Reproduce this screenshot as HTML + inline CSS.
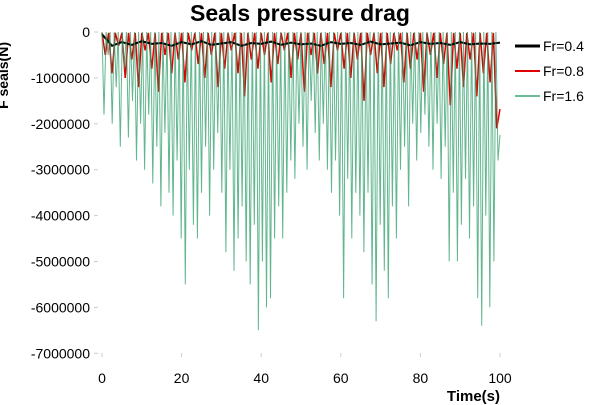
<!DOCTYPE html>
<html><head><meta charset="utf-8"><style>
body{margin:0;background:#fff;}
svg{display:block;font-family:"Liberation Sans",sans-serif;}
</style></head><body>
<svg id="chart" width="600" height="405">
<text x="300" y="21" text-anchor="middle" font-size="23" font-weight="bold">Seals pressure drag</text>
<text transform="translate(8,42) rotate(-90)" text-anchor="end" font-size="14" font-weight="bold">F seals(N)</text>
<text x="500" y="401" text-anchor="end" font-size="15" font-weight="bold">Time(s)</text>
<g id="axes"></g>
<g id="series"></g>
<g>
<rect x="508" y="30" width="92" height="80" fill="#fff"/>
<line x1="515" y1="46" x2="540" y2="46" stroke="#000" stroke-width="3"/>
<text x="543" y="51" font-size="14">Fr=0.4</text>
<line x1="515" y1="71" x2="540" y2="71" stroke="#e00000" stroke-width="2"/>
<text x="543" y="76" font-size="14">Fr=0.8</text>
<line x1="515" y1="96" x2="540" y2="96" stroke="#3aa673" stroke-width="1.5"/>
<text x="543" y="101" font-size="14">Fr=1.6</text>
</g>
</svg>
<script>
const xTicks=[0,20,40,60,80,100];
const yTicks=[0,-1000000,-2000000,-3000000,-4000000,-5000000,-6000000,-7000000];
const greenTroughs=[-1.8,-0.5,-2.0,-1.2,-2.5,-0.8,-2.3,-1.5,-2.8,-2.0,-3.0,-1.8,-3.3,-2.5,-3.8,-2.2,-3.5,-4.0,-2.8,-4.5,-5.5,-3.0,-4.2,-4.5,-3.5,-2.5,-4.0,-3.0,-2.2,-3.5,-4.8,-3.0,-5.2,-4.5,-3.8,-5.0,-5.5,-4.2,-6.5,-5.0,-6.0,-5.8,-4.5,-3.8,-4.5,-3.5,-2.8,-3.2,-2.0,-2.5,-3.0,-1.5,-2.2,-2.8,-2.0,-3.0,-3.5,-2.8,-4.0,-5.8,-3.2,-4.5,-3.5,-4.0,-4.8,-3.5,-5.5,-6.3,-4.2,-5.2,-5.8,-3.8,-4.5,-3.0,-2.5,-3.8,-2.0,-2.8,-2.2,-1.8,-2.5,-3.0,-2.0,-3.2,-2.5,-5.0,-3.5,-5.0,-4.2,-3.2,-4.5,-3.8,-5.8,-6.4,-4.0,-6.0,-5.0,-2.8];
const greenPeak=0;
const redTroughs=[-0.5,-0.9,-0.3,-1.0,-0.6,-1.2,-0.4,-0.8,-1.3,-0.5,-0.9,-0.6,-1.1,-0.4,-0.7,-1.0,-0.5,-1.2,-0.8,-0.4,-0.9,-1.4,-0.6,-0.8,-0.5,-1.1,-0.7,-0.4,-1.0,-0.6,-1.3,-0.5,-0.9,-0.7,-1.2,-0.4,-0.8,-1.0,-0.6,-1.5,-0.5,-0.9,-1.2,-0.7,-0.4,-1.1,-0.8,-0.6,-1.3,-0.5,-1.0,-0.7,-1.6,-0.8,-1.2,-0.6,-1.4,-0.9,-1.1,-2.1];
const redPeak=-0.02;
const blackVals=[-0.05,-0.3,-0.22,-0.28,-0.2,-0.26,-0.24,-0.3,-0.22,-0.27,-0.2,-0.28,-0.25,-0.22,-0.3,-0.24,-0.26,-0.21,-0.28,-0.23,-0.27,-0.25,-0.3,-0.22,-0.26,-0.24,-0.28,-0.21,-0.27,-0.25,-0.23,-0.29,-0.22,-0.26,-0.24,-0.28,-0.22,-0.27,-0.25,-0.26,-0.23];
const NS="http://www.w3.org/2000/svg";
const X=t=>102+t*3.98;
const Y=v=>32+(-v/1e6)*45.9;
const axes=document.getElementById('axes'),ser=document.getElementById('series');
function mk(tag,attrs,parent){const e=document.createElementNS(NS,tag);for(const k in attrs)e.setAttribute(k,attrs[k]);parent.appendChild(e);return e;}
yTicks.forEach(v=>{
 const t=mk('text',{x:90,y:Y(v)+5,'text-anchor':'end','font-size':14},axes);t.textContent=String(v);
 
 
 mk('line',{x1:94,x2:98,y1:Y(v),y2:Y(v),stroke:'#ccc'},axes);
});
xTicks.forEach(v=>{
 const t=mk('text',{x:X(v),y:383,'text-anchor':'middle','font-size':14},axes);t.textContent=String(v);
 
 
 mk('line',{x1:X(v),x2:X(v),y1:353,y2:357,stroke:'#ccc'},axes);
});
function spiky(troughs,peak){
 const n=troughs.length,dt=100/n;let d='';
 troughs.forEach((v,i)=>{const t0=i*dt;
  d+=(i?'L':'M')+X(t0).toFixed(1)+' '+Y(peak*1e6).toFixed(1)+' L'+X(t0+dt*0.5).toFixed(1)+' '+Y(v*1e6).toFixed(1)+' ';});
 d+='L'+X(100).toFixed(1)+' '+Y(troughs[n-1]*1e6*0.8).toFixed(1);
 return d;
}
const r=mk('path',{d:spiky(redTroughs,redPeak),fill:'none',stroke:'#e00000','stroke-width':1.5},ser);


const b=mk('path',{d:blackVals.map((v,i)=>(i?'L':'M')+X(i*100/(blackVals.length-1)).toFixed(1)+' '+Y(v*1e6).toFixed(1)).join(' '),fill:'none',stroke:'#000','stroke-width':2},ser);


const g=mk('path',{d:spiky(greenTroughs,greenPeak),fill:'none',stroke:'#2e9e68','stroke-width':1,'stroke-opacity':0.75},ser);


</script>
</body></html>
